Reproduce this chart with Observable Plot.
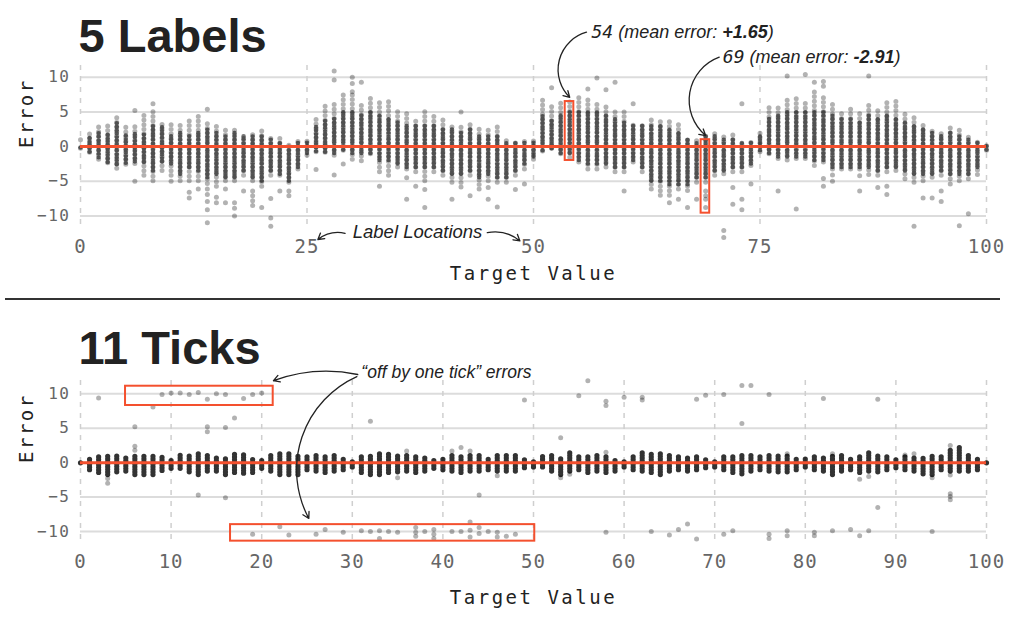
<!DOCTYPE html>
<html><head><meta charset="utf-8">
<script src="https://cdn.jsdelivr.net/npm/d3@7"></script>
<script src="https://cdn.jsdelivr.net/npm/@observablehq/plot@0.6"></script>
<style>
body{margin:0;background:#fff;width:1018px;height:623px;overflow:hidden}
svg{display:block}
#sep{margin-left:5px;width:995px;height:2px;background:#333}
g[aria-label="y-axis tick label"] text{font-family:"DejaVu Sans Mono",monospace;font-size:16px;fill:#666;letter-spacing:1.5px}
g[aria-label="x-axis tick label"] text{font-family:"DejaVu Sans Mono",monospace;font-size:19px;fill:#666;letter-spacing:1px}
.lab text{letter-spacing:2.5px}
</style></head><body>
<div id="p1"></div><div id="sep"></div><div id="p2"></div>
<script>
// ---------- data ----------
const targets = d3.range(0, 101);           // target values 0..100
const yTicks = [-10, -5, 0, 5, 10];
const xTicks1 = [0, 25, 50, 75, 100];
const xTicks2 = [0, 10, 20, 30, 40, 50, 60, 70, 80, 90, 100];

// Panel 1 (5 labels): per target value, spread of errors (light) and dense core (dark)
const lo1 = [-0.3,-0.9,-1.9,-2.4,-3.2,-2.6,-2.5,-4.2,-5,-3.5,
-4.2,-5,-5,-5,-5.4,-5.8,-5,-5,-4.2,-5,
-5.8,-4.2,-4.2,-5.2,-3.3,-1.3,-0.8,-0.9,-1.3,-0.6,
-1.9,-2.1,-1.1,-3.7,-4.2,-3,-3.3,-3.7,-5,-3.7,
-4.2,-5.2,-5.9,-4.2,-6.2,-5,-5.2,-5.2,-4.2,-3.3,
-1.9,-0.7,-0.3,-1.1,-1.6,-2.3,-3.3,-3.3,-3,-3.7,
-3.7,-2.3,-3.7,-6.2,-7.1,-7.1,-6.2,-6.4,-5.2,-5.2,
-4.2,-4,-3.7,-3.7,-2.8,-0.8,-1.1,-1.8,-2,-1.8,
-1.8,-2.8,-2.3,-3.3,-3.3,-3.3,-3.3,-4.1,-4.2,-3.7,
-3.5,-4.7,-5.2,-5,-4.5,-4.2,-4.7,-5,-4.7,-4.1,
-0.6];
const hi1 = [0.3,2.3,3.2,3.4,4.3,3.2,3.2,4.5,5,3.6,
3.2,3.6,4,4.3,3.6,3.3,2.6,2.6,1.7,1.8,
2.8,1.7,1.6,0.5,1.2,0.8,4.4,6,6.2,7.4,
7.4,6,7.4,6.9,6.6,5.6,5.3,4.1,5,4.5,
3.9,3.3,3.2,3.5,2.7,2.3,2.8,1.1,1,1.2,
1,6.8,6,6.2,6.5,7.2,6.9,6.5,6,5.2,
5.2,3.3,3.5,3.9,3.9,3.9,3.1,1.5,1,2,
2.1,1.4,1.8,0.6,0.7,2.1,6,6.1,6.9,7.2,
6.2,7.9,7.2,6.5,5.2,5.4,4.7,6.5,5.7,6.9,
6.5,5.2,4.7,3.4,2.7,2.1,2.7,2.3,1.6,0.8,
0.2];
const coreLo1 = [-0.2,-0.8,-1.6,-2.3,-2.6,-2.4,-2.2,-2.3,-3.5,-2.2,
-2.5,-4,-3,-3.5,-4.5,-4,-4.5,-4.5,-3.5,-4.5,
-5,-3.5,-4,-5,-3,-1,-0.7,-0.8,-1,-0.5,
-1,-1,-1,-2,-2,-2.5,-3,-3,-3,-3,
-3.5,-4,-4,-3.5,-4.5,-4,-4.5,-4.5,-3.5,-2.5,
-1.5,-0.6,-0.3,-1,-1,-2,-2.5,-2.5,-2.5,-3,
-3,-2,-3,-5,-5,-5.5,-5.5,-5.5,-4.5,-4.5,
-3.5,-3.5,-3,-3,-2.5,-0.6,-1,-1.5,-1.5,-1.5,
-1.5,-2,-2,-3,-3,-3,-3,-3,-3.5,-3,
-3,-3.5,-4,-4,-4,-3.5,-4,-4,-4,-3,
-0.5];
const coreHi1 = [0.2,1.3,2.2,2,3.3,2,2.2,1.8,3.2,3,
1.5,2,1.5,2,2.5,2,1.5,2,1.5,1.5,
1.5,1.2,0.5,0.3,0.5,0.6,3,4,4,5,
5,4.5,5,4.5,4,3.5,3,3,3,3,
2.5,2.5,2,2.5,1.5,1.5,1.5,0.8,0.7,0.8,
0.6,4.5,4,4.5,5,5,5,5,4.5,4,
3.5,3,3,3,3,2.5,2,1,0.8,1.5,
1.5,1,1.2,0.5,0.5,1.5,4,4.5,5,5,
5,5,5,4.5,4,4,3.5,4.5,4,4.5,
4,3.5,3,2.5,2,1.5,2,1.5,1.2,0.6,
0.2];
const out1 = [[0,1],[6,5.2],[6,-5],[8,6.2],[10,-5],[12,-6.6],[12,-7.4],[13,-6.1],[14,5.4],[14,-6.1],[14,-6.9],[14,-7.9],[14,-9.1],[14,-11],
[15,-7.3],[15,-8.1],[16,-6.1],[16,-8.1],[17,-8.1],[17,-8.9],[17,-10],[18,-6.4],[19,-6.4],[19,-7.1],[19,-7.8],[19,-8.5],[20,-8.8],
[21,-7.5],[21,-10.3],[21,-11.5],[22,-6.4],[23,-6.4],[23,-7.1],[26,-3.3],[28,10.9],[28,9.6],[28,-4.1],[29,-2.5],[30,10],[30,9.1],[30,7.9],
[31,9.3],[33,-5.7],[36,-4.5],[36,-7.6],[37,-5.7],[38,-6.2],[38,-8.8],[41,-7.6],[42,5],[43,-7.1],[45,-5.9],[45,-7.6],[46,-8.7],[48,-6.2],[49,-5.4],
[52,8.5],[56,8.3],[57,9.9],[58,8.2],[59,9.3],[60,-6.4],[61,6.2],[65,-8.1],[66,-7.6],[67,-8.8],[68,-7.6],[69,-6.4],[69,-7.1],[69,-7.6],[69,-8.8],
[71,-12.1],[71,-13.1],[72,-5.9],[72,-8.3],[73,6.2],[73,-7.6],[73,-9.1],[74,-5.4],[77,-6.4],[78,10.2],[79,-9],[80,10.4],[81,9.3],[82,9.4],[82,8.7],
[82,-4.6],[82,-5.7],[83,-4.1],[83,-5],[86,-4.2],[86,-6.4],[87,10.2],[88,-5.9],[89,-5.7],[89,-6.9],[92,-11.5],[93,-7.4],[94,-7.4],[95,-6.4],[95,-7.9],
[96,-5.4],[97,-11.4],[98,-9.7]];

// Panel 2 (11 ticks): dense range of errors per target value + scattered points
const lo2 = [-0.1,-1.1,-1.5,-1.8,-1.4,-1.3,-1.8,-1.8,-1.8,-1.2,
-0.9,-0.9,-1.4,-1.8,-1.3,-1.3,-1.8,-1.5,-1.6,-1.5,
-0.9,-1.3,-1.8,-1.8,-1.8,-1.1,-1.3,-1.5,-1.3,-1.1,
-0.7,-1.5,-1.8,-1.8,-1.5,-1.4,-1.3,-1.5,-1.3,-0.9,
-1.1,-1.3,-1.5,-1.3,-1.3,-1.1,-1.3,-1.3,-1.3,-0.8,
-0.7,-0.7,-1.3,-1.8,-1.3,-1.1,-1.5,-1.3,-1.5,-1.3,
-0.7,-1.1,-1.3,-1.5,-1.8,-1.3,-1.1,-1.3,-1.1,-0.8,
-0.7,-1.1,-1.5,-1.7,-1.3,-1.1,-1.3,-1.4,-1.4,-1.1,
-0.7,-1.1,-1.3,-1.8,-1.3,-1.1,-1.5,-1.3,-1.4,-1.1,
-0.8,-1.1,-1.3,-1.7,-1.8,-1.1,-1.3,-1.3,-1.3,-1.1,
-0.1];
const hi2 = [0.1,0.7,0.9,1.1,1,0.7,1.1,1,1,0.9,
0.5,1.3,1,1.4,1,0.7,0.7,1.3,1.1,0.4,
0.4,1,1.3,1.5,1.1,0.9,1,1,1,0.6,
0.4,1.1,1.1,1.3,1.3,0.9,1.1,1,0.6,0.4,
0.6,1.1,1.1,1.3,1.3,0.6,1.1,1.3,1,0.4,
0.4,0.9,1.1,0.6,1.5,0.9,1,1.3,1.1,0.4,
0.4,0.9,1.6,1.3,1.5,1,1,0.6,1,0.6,
0.2,1,1,1.1,1.1,1,1,1.1,0.9,0.5,
0.5,1,0.6,1,1,0.5,1.1,1.5,1,0.9,
0.4,0.9,0.9,0.9,0.9,0.9,1.8,2.3,1.1,0.6,
0.1];
const out2 = [[2,9.4],[3,-2.3],[3,-3],[6,5.2],[6,2.4],[6,1.8],[8,8.1],[9,9.9],[10,10.1],[11,10.1],[12,9.9],[13,10.2],[13,-4.7],
[14,9.2],[14,5.2],[14,4.5],[15,10],[16,9.9],[16,5.1],[16,-5.1],[17,6.5],[18,9.3],[19,9.9],[19,-10.4],[20,10.1],[22,-9.3],[23,-10.5],
[26,-10.4],[27,-9.7],[29,-10.1],[31,-9.9],[32,6],[32,-10],[33,-9.9],[33,-11],[34,-10],[35,-2.2],[35,-10.1],[36,1.7],[37,-9.4],[37,-10.1],
[37,-10.7],[38,-10],[39,-9.7],[39,-10.4],[39,-11],[41,1.7],[41,-10],[42,2.2],[42,-10],[43,1.7],[43,-8.6],[43,-9.8],[43,-10.8],[44,-4.7],
[44,-9.4],[44,-10.3],[45,-10],[46,-1.9],[46,-10.1],[46,-10.8],[47,-10.7],[48,-10.4],[49,9.1],[53,3.6],[53,-2.2],[54,-1.7],[55,9.7],
[56,11.9],[58,8.9],[58,8.3],[58,1.5],[58,-10.1],[60,9.5],[62,9.5],[62,9.1],[63,-10],[65,-10.5],[66,-9.7],[67,-8.9],[68,9.2],[68,-11.1],
[69,9.8],[71,9.9],[71,-10.4],[72,-9.9],[73,11.2],[73,5.7],[74,11.2],[76,9.9],[76,-10.4],[76,-11],[78,1.3],[78,-9.9],[78,-10.6],[81,-10.1],
[81,-10.6],[82,9.3],[83,1.3],[83,-9.9],[85,-9.7],[86,-2.4],[86,-10.6],[87,-2],[87,-9.9],[88,9.2],[88,-6.5],[91,1.1],[92,1.3],[94,-2.2],
[94,-10],[96,2.5],[96,-1.8],[96,-4.5],[96,-4.9],[96,-5.4]];

// highlight boxes [x1, x2, y1, y2] in data units
const boxes1 = [[53.5, 54.45, -2.0, 6.5], [68.5, 69.45, -9.6, 1.0]];
const boxes2 = [[4.97, 21.27, 8.3, 11.1], [16.56, 50.14, -11.4, -9.0]];

// annotation texts [x, y, text] and arrows [x1, y1, x2, y2] in data units
const notes1 = [[56.4, 16.5, "54 (mean error: +1.65)"], [70.9, 12.9, "69 (mean error: -2.91)"]];
const labelNote = [37.2, -12.3, "Label Locations"];
const arrows1Down = [[55.85, 16.5, 54, 7.1], [70.5, 12.9, 69, 1.6]];
const arrowLeft = [[29.2, -12.5, 26.2, -13.4]];
const arrowRight = [[44.9, -12.4, 48.5, -13.6]];
const notes2 = [[31.0, 13.1, "\u201Coff by one tick\u201D errors"]];
const arrowA = [[30.6, 12.8, 21.3, 11.9]];
const arrowB = [[30.5, 12.5, 25.2, -8.1]];

// ---------- drawing ----------
const RED = "#f4502e";
const INK = "#222";
const SANS = "Liberation Sans, Arial, Helvetica, sans-serif";
const MONO = "DejaVu Sans Mono, monospace";

const cols1 = targets.map((t, i) => ({t, lo: lo1[i], hi: hi1[i], cl: coreLo1[i], ch: coreHi1[i]}));
const cols2 = targets.map((t, i) => ({t, lo: lo2[i], hi: hi2[i]}));

function common(xTicks) {
  return [
    Plot.gridY(yTicks, {stroke: "#dcdcdc", strokeOpacity: 1, strokeWidth: 2}),
    Plot.gridX(xTicks, {stroke: "#cfcfcf", strokeOpacity: 1, strokeWidth: 1.5, strokeDasharray: "5,6"}),
    Plot.axisY(yTicks, {tickSize: 0, tickPadding: 10, label: null}),
    Plot.axisX(xTicks, {tickSize: 0, tickPadding: 9, label: null})
  ];
}
function arrow(data, bend) {
  return Plot.arrow(data, {x1: d => d[0], y1: d => d[1], x2: d => d[2], y2: d => d[3], bend,
    stroke: INK, strokeWidth: 1.3, headLength: 8});
}
function labels(title, titleDy, xLabelDy) {
  return [
    Plot.text([title], {text: d => d, frameAnchor: "top-left", dx: -2, dy: titleDy, lineAnchor: "bottom",
      textAnchor: "start", fontSize: 47, fontWeight: "bold", fontFamily: SANS, fill: INK}),
    Plot.text(["Error"], {text: d => d, frameAnchor: "left", dx: -54, rotate: -90, fontSize: 19,
      fontFamily: MONO, fill: INK, className: "lab"}),
    Plot.text(["Target Value"], {text: d => d, frameAnchor: "bottom", dy: xLabelDy, fontSize: 19,
      fontFamily: MONO, fill: INK, className: "lab"})
  ];
}
function boxMark(b) {
  return Plot.rect(b, {x1: d => d[0], x2: d => d[1], y1: d => d[2], y2: d => d[3],
    fill: "none", stroke: RED, strokeWidth: 2});
}
function noteMark(n, anchor, size) {
  return Plot.text(n, {x: d => d[0], y: d => d[1], text: d => d[2], textAnchor: anchor,
    fontSize: size, fontStyle: "italic", fontFamily: SANS, fill: INK});
}

const plot1 = Plot.plot({
  width: 1018, height: 298, marginLeft: 80, marginRight: 32, marginTop: 65, marginBottom: 68,
  x: {domain: [0, 100]}, y: {domain: [-12.1, 11.7]},
  style: {background: "white", fontFamily: MONO},
  marks: [
    ...common(xTicks1),
    Plot.ruleX(cols1, {x: "t", y1: "lo", y2: "hi", stroke: "#000", strokeOpacity: 0.3, strokeWidth: 5,
      strokeLinecap: "round", strokeDasharray: "0,4.6"}),
    Plot.ruleX(cols1, {x: "t", y1: "cl", y2: "ch", stroke: "#000", strokeOpacity: 0.55, strokeWidth: 4.6,
      strokeLinecap: "round", strokeDasharray: "0,3.4"}),
    Plot.dot(out1, {x: d => d[0], y: d => d[1], r: 2.5, fill: "#000", fillOpacity: 0.3}),
    Plot.ruleY([0], {stroke: RED, strokeWidth: 3}),
    boxMark(boxes1),
    ...labels("5 Labels", -14, 49),
    noteMark(notes1, "start", 18),
    noteMark([labelNote], "middle", 18.5),
    arrow(arrows1Down, -60),
    arrow(arrowLeft, -25),
    arrow(arrowRight, 25)
  ]
});

const plot2 = Plot.plot({
  width: 1018, height: 323, marginLeft: 80, marginRight: 32, marginTop: 80, marginBottom: 78,
  x: {domain: [0, 100]}, y: {domain: [-12.03, 11.93]},
  style: {background: "white", fontFamily: MONO},
  marks: [
    ...common(xTicks2),
    Plot.ruleX(cols2, {x: "t", y1: "lo", y2: "hi", stroke: "#000", strokeOpacity: 0.8, strokeWidth: 5.2,
      strokeLinecap: "round", strokeDasharray: "0,2.6"}),
    Plot.dot(out2, {x: d => d[0], y: d => d[1], r: 2.5, fill: "#000", fillOpacity: 0.3}),
    Plot.ruleY([0], {stroke: RED, strokeWidth: 3}),
    boxMark(boxes2),
    ...labels("11 Ticks", -17, 58),
    noteMark(notes2, "start", 17.5),
    arrow(arrowA, -16),
    arrow(arrowB, -47)
  ]
});

document.getElementById("p1").appendChild(plot1);
document.getElementById("p2").appendChild(plot2);

// rich text for the mean-error notes
d3.select(plot1).selectAll("text").each(function () {
  const s = this.textContent;
  const m = s.match(/^(\d+) \(mean error: ([+\-][\d.]+)\)$/);
  if (m) {
    d3.select(this).html(`<tspan font-family="${MONO}">${m[1]}</tspan> (mean error: <tspan font-weight="bold">${m[2]}</tspan>)`);
  }
});
</script>
</body></html>
